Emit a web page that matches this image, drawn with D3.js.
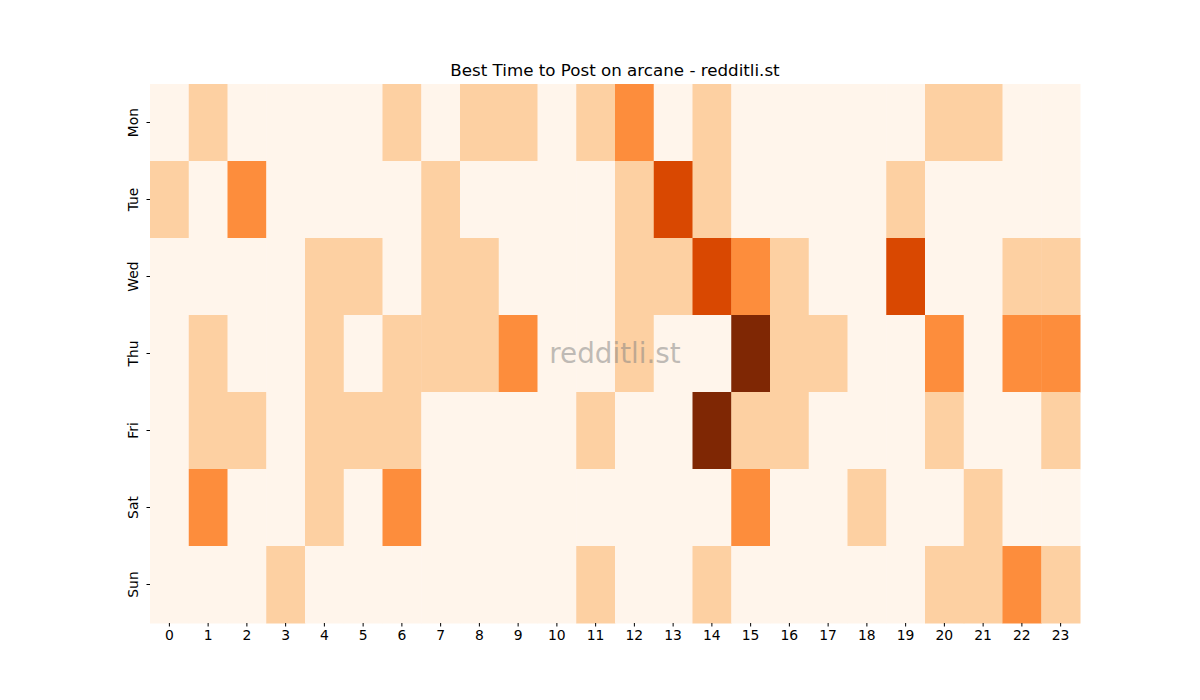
<!DOCTYPE html>
<html>
<head>
<meta charset="utf-8">
<script src="https://cdn.jsdelivr.net/npm/d3@7"></script>
<style>
  body { margin: 0; background: #fff; }
  svg text { font-family: "DejaVu Sans", sans-serif; }
</style>
</head>
<body>
<div id="chart"></div>
<script>
const days = ["Mon", "Tue", "Wed", "Thu", "Fri", "Sat", "Sun"];
const hours = d3.range(24).map(String);

// post counts per day, one value per hour 0..23
const mon = [0,1,0,0,0,0,1,0,1,1,0,1,2,0,1,0,0,0,0,0,1,1,0,0];
const tue = [1,0,2,0,0,0,0,1,0,0,0,0,1,3,1,0,0,0,0,1,0,0,0,0];
const wed = [0,0,0,0,1,1,0,1,1,0,0,0,1,1,3,2,1,0,0,3,0,0,1,1];
const thu = [0,1,0,0,1,0,1,1,1,2,0,0,1,0,0,4,1,1,0,0,2,0,2,2];
const fri = [0,1,1,0,1,1,1,0,0,0,0,1,0,0,4,1,1,0,0,0,1,0,0,1];
const sat = [0,2,0,0,1,0,2,0,0,0,0,0,0,0,0,2,0,0,1,0,0,1,0,0];
const sun = [0,0,0,1,0,0,0,0,0,0,0,1,0,0,1,0,0,0,0,0,1,1,2,1];
const rows = [mon, tue, wed, thu, fri, sat, sun];

const width = 1200, height = 700;
const margin = { top: 84, right: 120, bottom: 77, left: 150 };

const cells = [];
rows.forEach((r, i) => r.forEach((v, j) => cells.push({ day: days[i], hour: hours[j], value: v })));

const svg = d3.select("#chart")
    .append("svg")
    .attr("width", width)
    .attr("height", height);

const x = d3.scaleBand()
    .domain(hours)
    .range([margin.left, width - margin.right]);

const y = d3.scaleBand()
    .domain(days)
    .range([margin.top, height - margin.bottom]);

const color = d3.scaleOrdinal()
    .domain([0, 1, 2, 3, 4])
    .range(["#fff5eb", "#fdd0a2", "#fd8d3c", "#d94801", "#7f2704"]);

svg.selectAll("rect.cell")
    .data(cells)
    .enter()
    .append("rect")
    .attr("class", "cell")
    .attr("x", d => x(d.hour))
    .attr("y", d => y(d.day))
    .attr("width", x.bandwidth() + 0.5)
    .attr("height", y.bandwidth() + 0.5)
    .attr("fill", d => color(d.value));

const xAxis = svg.append("g")
    .attr("transform", `translate(0, ${height - margin.bottom})`)
    .call(d3.axisBottom(x).tickSize(3.5).tickPadding(3.5));
xAxis.select(".domain").remove();
xAxis.selectAll("text").attr("font-size", "13.9px").attr("fill", "#000");

const yAxis = svg.append("g")
    .attr("transform", `translate(${margin.left}, 0)`)
    .call(d3.axisLeft(y).tickSize(3.5).tickPadding(3.5));
yAxis.select(".domain").remove();
yAxis.selectAll("text")
    .attr("font-size", "13.9px")
    .attr("fill", "#000")
    .attr("text-anchor", "middle")
    .attr("dy", null)
    .attr("x", null)
    .attr("transform", "translate(-12, 0) rotate(-90)");

svg.append("text")
    .attr("x", x.range()[0] + (x.range()[1] - x.range()[0]) / 2)
    .attr("y", 76)
    .attr("text-anchor", "middle")
    .attr("font-size", "16.7px")
    .attr("fill", "#000")
    .text("Best Time to Post on arcane - redditli.st");

svg.append("text")
    .attr("x", x.range()[0] + (x.range()[1] - x.range()[0]) / 2)
    .attr("y", (y.range()[0] + y.range()[1]) / 2)
    .attr("text-anchor", "middle")
    .attr("dominant-baseline", "central")
    .attr("font-size", "27.8px")
    .attr("fill", "#808080")
    .attr("fill-opacity", 0.5)
    .text("redditli.st");
</script>
</body>
</html>
